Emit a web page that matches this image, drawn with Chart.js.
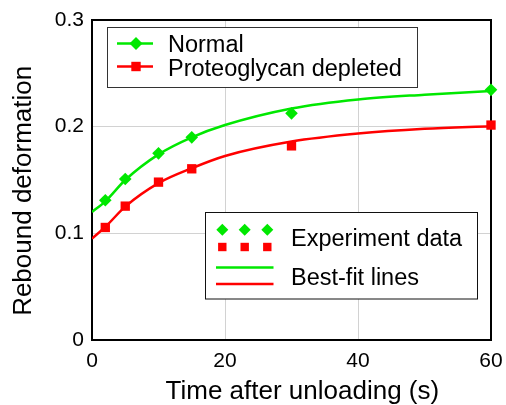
<!DOCTYPE html>
<html>
<head>
<meta charset="utf-8">
<script src="https://cdn.jsdelivr.net/npm/chart.js@4/dist/chart.umd.min.js"></script>
<style>
  body { margin: 0; background: #fff; }
  #wrap { width: 506px; height: 405px; position: relative; }
</style>
</head>
<body>
<div id="wrap"><canvas id="chart"></canvas></div>
<script>
// measured points
const timeData = [2, 5, 10, 15, 30, 60];
const normalData = [0.131, 0.151, 0.175, 0.190, 0.2125, 0.2345];
const depletedData = [0.1055, 0.1255, 0.148, 0.1605, 0.182, 0.2015];

// best-fit curves
const fitTime = [0, 2, 5, 10, 15, 20, 30, 40, 50, 60];
const normalFit = [0.120, 0.130, 0.150, 0.174, 0.190, 0.2015, 0.217, 0.2255, 0.230, 0.2335];
const depletedFit = [0.095, 0.106, 0.125, 0.147, 0.161, 0.1725, 0.186, 0.1935, 0.198, 0.2005];

const xTicks = [0, 20, 40, 60];
const yTicks = [0, 0.1, 0.2, 0.3];

const GREEN = '#00e800';
const RED = '#ff0000';
const FONT = "'Liberation Sans', Arial, sans-serif";

const toXY = (xs, ys) => xs.map((x, i) => ({ x: x, y: ys[i] }));

// frame round the plot area
const framePlugin = {
  id: 'frame',
  beforeDatasetsDraw(chart) {
    const { ctx, chartArea: a } = chart;
    ctx.save();
    ctx.strokeStyle = '#000';
    ctx.lineWidth = 2;
    ctx.strokeRect(a.left, a.top, a.right - a.left, a.bottom - a.top);
    ctx.restore();
  }
};

function diamond(ctx, x, y, r) {
  ctx.beginPath();
  ctx.moveTo(x, y - r);
  ctx.lineTo(x + r, y);
  ctx.lineTo(x, y + r);
  ctx.lineTo(x - r, y);
  ctx.closePath();
  ctx.fill();
}

function square(ctx, x, y, h) {
  ctx.fillRect(x - h, y - h, 2 * h, 2 * h);
}

// the two boxed legends
const legendPlugin = {
  id: 'boxLegends',
  afterDatasetsDraw(chart) {
    const ctx = chart.ctx;
    ctx.save();
    ctx.font = '23.5px ' + FONT;
    ctx.textBaseline = 'alphabetic';
    ctx.lineWidth = 1;

    // legend 1
    ctx.fillStyle = '#fff';
    ctx.fillRect(107, 27.5, 310, 60);
    ctx.strokeStyle = '#333';
    ctx.strokeRect(107.5, 27.5, 310, 60);

    ctx.lineWidth = 2.5;
    ctx.strokeStyle = GREEN;
    ctx.beginPath(); ctx.moveTo(117, 43.5); ctx.lineTo(153, 43.5); ctx.stroke();
    ctx.fillStyle = GREEN;
    diamond(ctx, 136, 43.5, 6.5);
    ctx.strokeStyle = RED;
    ctx.beginPath(); ctx.moveTo(117, 66.5); ctx.lineTo(153, 66.5); ctx.stroke();
    ctx.fillStyle = RED;
    square(ctx, 136, 66.5, 4.7);

    ctx.fillStyle = '#000';
    ctx.fillText('Normal', 168, 51.5);
    ctx.fillText('Proteoglycan depleted', 168, 76);

    // legend 2
    ctx.lineWidth = 1;
    ctx.fillStyle = '#fff';
    ctx.fillRect(205.5, 212.5, 272, 86.5);
    ctx.strokeStyle = '#111';
    ctx.strokeRect(205.5, 212.5, 272, 86.5);

    [222.3, 244.7, 267.3].forEach(x => {
      ctx.fillStyle = GREEN;
      diamond(ctx, x, 229.7, 6);
      ctx.fillStyle = RED;
      square(ctx, x, 247, 4.2);
    });
    ctx.lineWidth = 2.5;
    ctx.strokeStyle = GREEN;
    ctx.beginPath(); ctx.moveTo(216, 267.5); ctx.lineTo(273.5, 267.5); ctx.stroke();
    ctx.strokeStyle = RED;
    ctx.beginPath(); ctx.moveTo(216, 284); ctx.lineTo(273.5, 284); ctx.stroke();

    ctx.fillStyle = '#000';
    ctx.fillText('Experiment data', 291, 246);
    ctx.fillText('Best-fit lines', 291, 285);
    ctx.restore();
  }
};

new Chart(document.getElementById('chart'), {
  type: 'scatter',
  data: {
    datasets: [
      {
        label: 'Normal fit',
        data: toXY(fitTime, normalFit),
        showLine: true,
        borderColor: GREEN,
        borderWidth: 2.5,
        pointRadius: 0,
        cubicInterpolationMode: 'monotone',
        fill: false
      },
      {
        label: 'Proteoglycan depleted fit',
        data: toXY(fitTime, depletedFit),
        showLine: true,
        borderColor: RED,
        borderWidth: 2.5,
        pointRadius: 0,
        cubicInterpolationMode: 'monotone',
        fill: false
      },
      {
        label: 'Normal',
        data: toXY(timeData, normalData),
        showLine: false,
        pointStyle: 'rectRot',
        pointRadius: 6.3,
        pointBorderWidth: 0,
        backgroundColor: GREEN,
        borderColor: GREEN,
        clip: false
      },
      {
        label: 'Proteoglycan depleted',
        data: toXY(timeData, depletedData),
        showLine: false,
        pointStyle: 'rect',
        pointRadius: 6.6,
        pointBorderWidth: 0,
        backgroundColor: RED,
        borderColor: RED,
        clip: false
      }
    ]
  },
  options: {
    responsive: true,
    maintainAspectRatio: false,
    animation: false,
    layout: { padding: { top: 20, right: 15, left: 0, bottom: 0 } },
    plugins: {
      legend: { display: false },
      tooltip: { enabled: false }
    },
    scales: {
      x: {
        type: 'linear',
        min: 0,
        max: 60,
        afterBuildTicks: s => { s.ticks = xTicks.map(v => ({ value: v })); },
        afterFit: s => { s.height = 65; s.paddingLeft = 0; s.paddingRight = 0; },
        grid: { color: '#d2d2d2', lineWidth: 1, drawTicks: false },
        border: { display: false },
        ticks: {
          color: '#000',
          padding: 9,
          maxRotation: 0,
          font: { family: FONT, size: 21 }
        },
        title: {
          display: true,
          // leading spaces nudge the title right, as in the original
          text: '   Time after unloading (s)',
          color: '#000',
          padding: { top: 0, bottom: 0 },
          font: { family: FONT, size: 26, lineHeight: 1 }
        }
      },
      y: {
        type: 'linear',
        min: 0,
        max: 0.3,
        afterBuildTicks: s => { s.ticks = yTicks.map(v => ({ value: v })); },
        afterFit: s => { s.width = 92; s.paddingTop = 0; s.paddingBottom = 0; },
        grid: { color: '#d2d2d2', lineWidth: 1, drawTicks: false },
        border: { display: false },
        ticks: {
          color: '#000',
          padding: 8,
          callback: v => String(+v.toFixed(1)),
          font: { family: FONT, size: 21 }
        },
        title: {
          display: true,
          text: 'Rebound deformation   ',
          color: '#000',
          padding: { top: 8, bottom: 0 },
          font: { family: FONT, size: 26, lineHeight: 1.2 }
        }
      }
    }
  },
  plugins: [framePlugin, legendPlugin]
});
</script>
</body>
</html>
